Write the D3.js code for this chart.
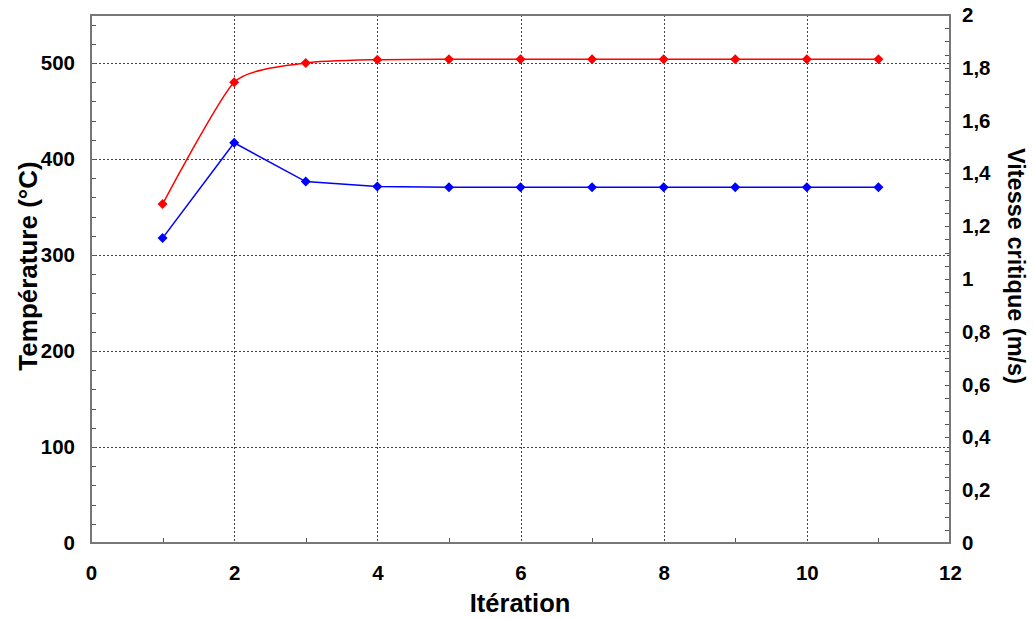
<!DOCTYPE html>
<html>
<head>
<meta charset="utf-8">
<script src="https://cdn.jsdelivr.net/npm/d3@7"></script>
<style>
  html, body { margin: 0; padding: 0; background: #fff; }
  svg { display: block; font-family: "Liberation Sans", Arial, sans-serif; font-weight: bold; }
</style>
</head>
<body>
<svg id="chart" width="1033" height="619"></svg>
<script>
// ---- data ----
const iterations = [1, 2, 3, 4, 5, 6, 7, 8, 9, 10, 11];
const temperature = [353, 480, 500, 503.5, 504, 504, 504, 504, 504, 504, 504];
const vitesse = [1.155, 1.516, 1.369, 1.350, 1.348, 1.348, 1.348, 1.348, 1.348, 1.348, 1.348];
const xTicks = [0, 2, 4, 6, 8, 10, 12];
const yLeftTicks = [0, 100, 200, 300, 400, 500];
const yRightTicks = [0, 0.2, 0.4, 0.6, 0.8, 1, 1.2, 1.4, 1.6, 1.8, 2];
const xTitle = "Itération";
const yLeftTitle = "Température (°C)";
const yRightTitle = "Vitesse critique (m/s)";

// ---- layout ----
const L = 91, R = 950, T = 15, B = 543;
const svg = d3.select("#chart");
const x = d3.scaleLinear().domain([0, 12]).range([L, R]);
const yL = d3.scaleLinear().domain([0, 550]).range([B, T]);
const yR = d3.scaleLinear().domain([0, 2]).range([B, T]);
const fmtR = v => String(+v.toFixed(2)).replace(".", ",");

// grid
const grid = svg.append("g").attr("stroke", "#444").attr("stroke-width", 1).attr("stroke-dasharray", "2,2");
grid.selectAll("line.h").data(yLeftTicks.filter(d => d > 0)).join("line")
  .attr("x1", L).attr("x2", R).attr("y1", d => Math.round(yL(d)) + 0.5).attr("y2", d => Math.round(yL(d)) + 0.5);
grid.selectAll("line.v").data(xTicks.filter(d => d > 0 && d < 12)).join("line")
  .attr("y1", T).attr("y2", B).attr("x1", d => Math.round(x(d)) + 0.5).attr("x2", d => Math.round(x(d)) + 0.5);

// minor ticks
const tk = svg.append("g").attr("stroke", "#555").attr("stroke-width", 1);
tk.selectAll("line.l").data(d3.range(0, 551, 20)).join("line")
  .attr("x1", L).attr("x2", L + 5).attr("y1", d => Math.round(yL(d)) + 0.5).attr("y2", d => Math.round(yL(d)) + 0.5);
tk.selectAll("line.r").data(d3.range(0, 41).map(i => i * 0.05)).join("line")
  .attr("x1", R - 5).attr("x2", R).attr("y1", d => Math.round(yR(d)) + 0.5).attr("y2", d => Math.round(yR(d)) + 0.5);
tk.selectAll("line.b").data([1, 3, 5, 7, 9, 11]).join("line")
  .attr("y1", B).attr("y2", B - 5).attr("x1", d => Math.round(x(d)) + 0.5).attr("x2", d => Math.round(x(d)) + 0.5);

// frame
svg.append("rect").attr("x", L).attr("y", T).attr("width", R - L).attr("height", B - T)
  .attr("fill", "none").attr("stroke", "#777").attr("stroke-width", 2);

// axes labels via d3 axes
const axB = d3.axisBottom(x).tickValues(xTicks).tickSize(0).tickPadding(22);
const gB = svg.append("g").attr("transform", `translate(0,${B})`).call(axB);
const axL = d3.axisLeft(yL).tickValues(yLeftTicks).tickSize(0).tickPadding(16);
const gL = svg.append("g").attr("transform", `translate(${L},0)`).call(axL);
const axR = d3.axisRight(yR).tickValues(yRightTicks).tickSize(0).tickPadding(12).tickFormat(fmtR);
const gR = svg.append("g").attr("transform", `translate(${R},0)`).call(axR);
[gB, gL, gR].forEach(g => {
  g.select(".domain").remove();
  g.selectAll("text").attr("font-family", "'Liberation Sans', Arial, sans-serif")
    .attr("font-weight", "bold").attr("font-size", 20.5).attr("fill", "#000");
});

// titles
svg.append("text").attr("x", 520).attr("y", 612).attr("text-anchor", "middle")
  .attr("font-size", 25.5).text(xTitle);
svg.append("text").attr("transform", `translate(37,266) rotate(-90)`).attr("text-anchor", "middle")
  .attr("font-size", 26).text(yLeftTitle);
svg.append("text").attr("transform", `translate(1008,266) rotate(90)`).attr("text-anchor", "middle")
  .attr("font-size", 23.5).text(yRightTitle);

// series
const tempData = iterations.map((d, i) => [d, temperature[i]]);
const vitData = iterations.map((d, i) => [d, vitesse[i]]);
svg.append("path").datum(tempData).attr("fill", "none").attr("stroke", "#ff0000").attr("stroke-width", 1.5)
  .attr("d", d3.line().x(d => x(d[0])).y(d => yL(d[1])).curve(d3.curveCardinal.tension(0.4)));
svg.append("path").datum(vitData).attr("fill", "none").attr("stroke", "#0000ff").attr("stroke-width", 1.5)
  .attr("d", d3.line().x(d => x(d[0])).y(d => yR(d[1])));
const diamond = "M0,-5L5,0L0,5L-5,0Z";
svg.append("g").selectAll("path").data(tempData).join("path")
  .attr("transform", d => `translate(${x(d[0])},${yL(d[1])})`).attr("d", diamond).attr("fill", "#ff0000");
svg.append("g").selectAll("path").data(vitData).join("path")
  .attr("transform", d => `translate(${x(d[0])},${yR(d[1])})`).attr("d", diamond).attr("fill", "#0000ff");
</script>
</body>
</html>
